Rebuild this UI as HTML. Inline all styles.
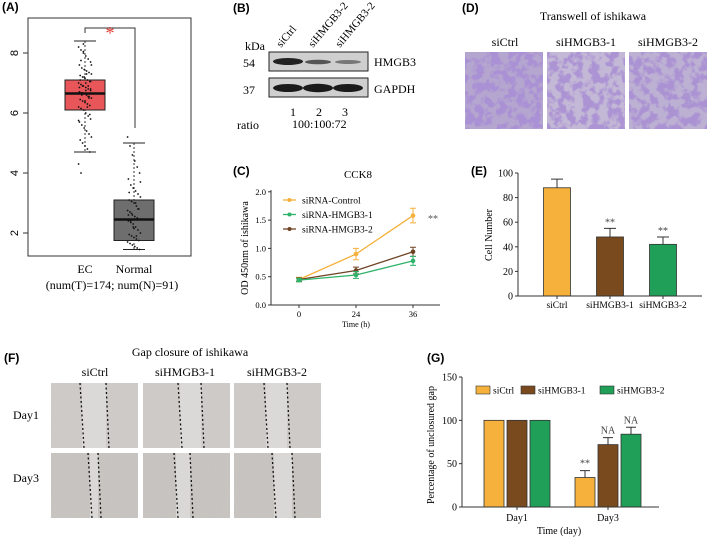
<!DOCTYPE html>
<html><head><meta charset="utf-8"><style>
html,body{margin:0;padding:0;background:#fff;}
svg{display:block;font-family:"Liberation Serif",serif;}
.lbl{font-family:"Liberation Sans",sans-serif;font-weight:bold;font-size:12px;}
</style></head><body>
<svg id="fig" width="709" height="539" viewBox="0 0 709 539" xmlns="http://www.w3.org/2000/svg">
<defs>
<filter id="purple" x="0" y="0" width="100%" height="100%">
 <feTurbulence type="fractalNoise" baseFrequency="0.12" numOctaves="3" seed="4"/>
 <feColorMatrix type="matrix" values="0 0 0 0 0.40  0 0 0 0 0.28  0 0 0 0 0.66  0 0 0 -6 3.4"/>
</filter>
<filter id="gray" x="0" y="0" width="100%" height="100%">
 <feTurbulence type="fractalNoise" baseFrequency="0.6" numOctaves="2" seed="2"/>
 <feColorMatrix type="matrix" values="0 0 0 0 0.55  0 0 0 0 0.53  0 0 0 0 0.52  0 0 0 -1.2 0.8"/>
</filter>
</defs>

<!-- Panel A -->
<g>
<text class="lbl" x="2" y="11">(A)</text>
<rect x="28" y="18" width="163" height="238" fill="none" stroke="#333" stroke-width="1"/>
<g id="aTicks"></g>
<g id="aPlot"></g>
<polyline points="85,33 85,28 135,28 135,128" fill="none" stroke="#333" stroke-width="1"/>
<text x="110" y="39" font-size="18" fill="#e03a30" text-anchor="middle">*</text>
<text x="85" y="273" font-size="12" text-anchor="middle">EC</text>
<text x="134" y="273" font-size="12" text-anchor="middle">Normal</text>
<text x="112" y="289" font-size="12" text-anchor="middle">(num(T)=174; num(N)=91)</text>
</g>

<!-- Panel B -->
<g>
<text class="lbl" x="233" y="12">(B)</text>
<text x="281" y="48" font-size="11" transform="rotate(-50 281 48)">siCtrl</text>
<text x="313" y="48" font-size="11" transform="rotate(-50 313 48)">siHMGB3-2</text>
<text x="340" y="48" font-size="11" transform="rotate(-50 340 48)">siHMGB3-2</text>
<text x="245" y="50" font-size="12">kDa</text>
<text x="243" y="67" font-size="12">54</text>
<text x="243" y="94" font-size="12">37</text>
<rect x="269" y="52" width="99" height="19" fill="#cfcfcf" stroke="#222"/>
<ellipse cx="288" cy="61.5" rx="15" ry="3.5" fill="#222"/>
<ellipse cx="318" cy="62" rx="13" ry="2.3" fill="#555"/>
<ellipse cx="348" cy="62" rx="13" ry="2" fill="#777"/>
<rect x="269" y="78" width="99" height="19" fill="#cfcfcf" stroke="#222"/>
<ellipse cx="288" cy="88" rx="15" ry="4" fill="#1a1a1a"/>
<ellipse cx="318" cy="88" rx="15" ry="4.2" fill="#1a1a1a"/>
<ellipse cx="348" cy="88" rx="15" ry="4" fill="#1a1a1a"/>
<text x="374" y="66" font-size="12">HMGB3</text>
<text x="374" y="93" font-size="12">GAPDH</text>
<text x="293" y="116" font-size="12" text-anchor="middle">1</text>
<text x="319" y="116" font-size="12" text-anchor="middle">2</text>
<text x="345" y="116" font-size="12" text-anchor="middle">3</text>
<text x="237" y="129" font-size="12">ratio</text>
<text x="292" y="128" font-size="12">100:100:72</text>
</g>

<!-- Panel D -->
<g>
<text class="lbl" x="462" y="12">(D)</text>
<text x="593" y="20" font-size="12" text-anchor="middle">Transwell of ishikawa</text>
<text x="505" y="46" font-size="12" text-anchor="middle">siCtrl</text>
<text x="586" y="46" font-size="12" text-anchor="middle">siHMGB3-1</text>
<text x="668" y="46" font-size="12" text-anchor="middle">siHMGB3-2</text>
<g><rect x="465" y="52" width="78" height="77" fill="#b5a6cf"/><rect x="465" y="52" width="78" height="77" filter="url(#purple)"/></g>
<g><rect x="547" y="52" width="78" height="77" fill="#c3b8d6"/><rect x="547" y="52" width="78" height="77" filter="url(#purple)" opacity="0.9"/></g>
<g><rect x="629" y="52" width="78" height="77" fill="#bdb1d3"/><rect x="629" y="52" width="78" height="77" filter="url(#purple)" opacity="0.9"/></g>
</g>

<!-- Panel C -->
<g>
<text class="lbl" x="233" y="175">(C)</text>
<text x="358" y="178" font-size="11" text-anchor="middle">CCK8</text>
<text x="248" y="248" font-size="10" text-anchor="middle" transform="rotate(-90 248 248)">OD 450nm of ishikawa</text>
<text x="356" y="327" font-size="8" text-anchor="middle">Time (h)</text>
<g id="cPlot"></g>
<text x="428" y="222" font-size="10" fill="#555">**</text>
</g>

<!-- Panel E -->
<g>
<text class="lbl" x="471" y="175">(E)</text>
<text x="492" y="235" font-size="10" text-anchor="middle" transform="rotate(-90 492 235)">Cell Number</text>
<g id="ePlot"></g>
</g>

<!-- Panel F -->
<g>
<text class="lbl" x="4" y="362">(F)</text>
<text x="190" y="356" font-size="12" text-anchor="middle">Gap closure of ishikawa</text>
<text x="95" y="376" font-size="12" text-anchor="middle">siCtrl</text>
<text x="185" y="376" font-size="12" text-anchor="middle">siHMGB3-1</text>
<text x="277" y="376" font-size="12" text-anchor="middle">siHMGB3-2</text>
<text x="13" y="419" font-size="12">Day1</text>
<text x="13" y="482" font-size="12">Day3</text>
<g id="fImgs"></g>
</g>

<!-- Panel G -->
<g>
<text class="lbl" x="427" y="362">(G)</text>
<text x="434" y="445" font-size="10" text-anchor="middle" transform="rotate(-90 434 445)">Percentage of unclosured gap</text>
<text x="559" y="534" font-size="10" text-anchor="middle">Time (day)</text>
<g id="gPlot"></g>
</g>
</svg>
<script>
// ---------- Data ----------
// Panel A
const aTickValues = [2, 4, 6, 8];
const ecStats = [4.7, 6.1, 6.65, 7.1, 8.4];      // lowWhisker, q1, median, q3, highWhisker
const normalStats = [1.45, 1.75, 2.45, 3.1, 5.0];
const ecPoints = [8.2,8.1,8.0,7.9,7.8,7.7,7.6,7.5,7.45,7.4,7.35,7.3,7.25,7.2,7.15,7.1,7.05,7.0,6.95,6.9,6.85,6.8,6.75,6.7,6.68,6.65,6.6,6.55,6.5,6.45,6.4,6.35,6.3,6.25,6.2,6.15,6.1,6.0,5.9,5.8,5.7,5.6,5.5,5.4,5.3,5.2,5.1,5.0,4.9,4.8,4.7,4.3,4.0,8.3,7.0,6.9,6.8,6.7,6.6,7.2,7.3,6.5,7.6,7.1,6.9,6.4,6.2,5.95,5.75,7.75,8.05,6.75,6.55,7.05,6.85];
const normalPoints = [5.2,4.9,4.6,4.4,4.2,4.0,3.8,3.6,3.5,3.4,3.3,3.2,3.1,3.05,3.0,2.9,2.8,2.75,2.7,2.6,2.55,2.5,2.45,2.4,2.35,2.3,2.2,2.1,2.0,1.95,1.9,1.85,1.8,1.75,1.7,1.65,1.6,1.55,1.5,1.45,2.6,2.4,2.2,3.0,2.8,3.7,3.35,2.65,2.15,1.9];
// Panel C
const cTimes = ["0", "24", "36"];
const cTicks = [0.0, 0.5, 1.0, 1.5, 2.0];
const cSeriesNames = ["siRNA-Control", "siRNA-HMGB3-1", "siRNA-HMGB3-2"];
const cControl = [0.45, 0.90, 1.58];
const cControlErr = [0.04, 0.10, 0.13];
const cH1 = [0.44, 0.53, 0.78];
const cH1Err = [0.03, 0.06, 0.08];
const cH2 = [0.45, 0.61, 0.94];
const cH2Err = [0.03, 0.06, 0.08];
// Panel E
const eCategories = ["siCtrl", "siHMGB3-1", "siHMGB3-2"];
const eTicks = [0, 20, 40, 60, 80, 100];
const eValues = [88, 48, 42];
const eErr = [7, 7, 6];
const eSig = ["", "**", "**"];
// Panel G
const gDays = ["Day1", "Day3"];
const gTicks = [0, 50, 100, 150];
const gSeriesNames = ["siCtrl", "siHMGB3-1", "siHMGB3-2"];
const gCtrl = [100, 34];
const gH1 = [100, 72];
const gH2 = [100, 84];
const gErr = [[0, 8], [0, 8], [0, 8]];
const gSig = [["", "**"], ["", "NA"], ["", "NA"]];

// ---------- Helpers ----------
const NS = "http://www.w3.org/2000/svg";
function mk(tag, attrs, parent, text) {
  const e = document.createElementNS(NS, tag);
  for (const k in attrs) e.setAttribute(k, attrs[k]);
  if (text !== undefined) e.textContent = text;
  parent.appendChild(e);
  return e;
}
const ORANGE = "#f5b13c", GREEN = "#2fb36a", BROWN = "#6f4425";
const BAR_BROWN = "#7a4a1f", BAR_GREEN = "#1f9f57";

// ---------- Panel A ----------
(function () {
  const yA = v => 293 - 30 * v;
  const tg = document.getElementById("aTicks");
  aTickValues.forEach(v => {
    const l = mk("line", {x1: 23, x2: 28, y1: yA(v), y2: yA(v), stroke: "#333"}, tg);
    
    
    const t = mk("text", {x: 14, y: yA(v), "font-size": 11, "text-anchor": "middle", "font-family": "Liberation Sans, sans-serif", transform: `rotate(-90 14 ${yA(v)})`, dy: 4}, tg, String(v));
    
    
  });
  const g = document.getElementById("aPlot");
  function box(stats, cx, fill, name) {
    const grp = mk("g", {}, g);
    
    
    mk("line", {x1: cx, x2: cx, y1: yA(stats[4]), y2: yA(stats[0]), stroke: "#333", "stroke-dasharray": "2,2"}, grp);
    mk("line", {x1: cx - 11, x2: cx + 11, y1: yA(stats[4]), y2: yA(stats[4]), stroke: "#222"}, grp);
    mk("line", {x1: cx - 11, x2: cx + 11, y1: yA(stats[0]), y2: yA(stats[0]), stroke: "#222"}, grp);
    mk("rect", {x: cx - 20, y: yA(stats[3]), width: 40, height: yA(stats[1]) - yA(stats[3]), fill: fill, stroke: "#222"}, grp);
    mk("line", {x1: cx - 20, x2: cx + 20, y1: yA(stats[2]), y2: yA(stats[2]), stroke: "#111", "stroke-width": 2.5}, grp);
  }
  box(ecStats, 85, "#e8565a", "box-ec");
  box(normalStats, 134, "#6e6e6e", "box-normal");
  function dots(arr, cx, name) {
    arr.forEach((v, i) => {
      const j = ((i * 37) % 17 - 8) * 0.8;
      const c = mk("circle", {cx: cx + j, cy: yA(v), r: 0.9, fill: "#111"}, g);
      
      
    });
  }
  dots(ecPoints, 85, "ec-point");
  dots(normalPoints, 134, "normal-point");
})();

// ---------- Panel C ----------
(function () {
  const g = document.getElementById("cPlot");
  const yC = v => 305 - 56.6 * v;
  const xC = i => 299 + 57 * i;
  const ax = mk("path", {d: "M271,190 V305 H440", fill: "none", stroke: "#333", "stroke-width": 1}, g);
  
  
  cTicks.forEach(v => {
    mk("line", {x1: 268, x2: 271, y1: yC(v), y2: yC(v), stroke: "#333"}, g);
    const t = mk("text", {x: 266, y: yC(v) + 3, "font-size": 8.5, "text-anchor": "end"}, g, v.toFixed(1));
    
    
  });
  cTimes.forEach((s, i) => {
    mk("line", {x1: xC(i), x2: xC(i), y1: 305, y2: 308, stroke: "#333"}, g);
    const t = mk("text", {x: xC(i), y: 317, "font-size": 8.5, "text-anchor": "middle"}, g, s);
    
    
  });
  function series(vals, errs, col, name) {
    const pts = vals.map((v, i) => xC(i) + "," + yC(v)).join(" ");
    const p = mk("polyline", {points: pts, fill: "none", stroke: col, "stroke-width": 1.3}, g);
    
    
    vals.forEach((v, i) => {
      const x = xC(i);
      mk("path", {d: `M${x},${yC(v - errs[i])} V${yC(v + errs[i])} M${x - 3},${yC(v - errs[i])} h6 M${x - 3},${yC(v + errs[i])} h6`, stroke: col, fill: "none"}, g);
      const c = mk("circle", {cx: x, cy: yC(v), r: 2.3, fill: col}, g);
      
      
    });
  }
  series(cControl, cControlErr, ORANGE, "control");
  series(cH2, cH2Err, BROWN, "hmgb3-2");
  series(cH1, cH1Err, GREEN, "hmgb3-1");
  const cols = [ORANGE, GREEN, BROWN];
  cSeriesNames.forEach((n, i) => {
    const y = 200 + 14.5 * i;
    const lg = mk("g", {}, g);
    
    
    mk("line", {x1: 283, x2: 296, y1: y, y2: y, stroke: cols[i], "stroke-width": 1.3}, lg);
    mk("circle", {cx: 289.5, cy: y, r: 2, fill: cols[i]}, lg);
    mk("text", {x: 302, y: y + 3.5, "font-size": 9.5}, lg, n);
  });
})();

// ---------- Panel E ----------
(function () {
  const g = document.getElementById("ePlot");
  const yE = v => 296 - 1.23 * v;
  const xE = i => 557 + 53 * i;
  const cols = [ORANGE, BAR_BROWN, BAR_GREEN];
  eCategories.forEach((c, i) => {
    const b = mk("rect", {x: xE(i) - 13.5, y: yE(eValues[i]), width: 27, height: yE(0) - yE(eValues[i]), fill: cols[i], stroke: "#333", "stroke-width": 0.8}, g);
    
    
    const x = xE(i), top = yE(eValues[i] + eErr[i]);
    mk("path", {d: `M${x},${yE(eValues[i])} V${top} M${x - 6},${top} h12`, stroke: "#333", fill: "none"}, g);
    if (eSig[i]) mk("text", {x: x, y: top - 3, "font-size": 10, "text-anchor": "middle", fill: "#444"}, g, eSig[i]);
    mk("line", {x1: x, x2: x, y1: 296, y2: 299, stroke: "#333"}, g);
    const t = mk("text", {x: x, y: 308, "font-size": 9.5, "text-anchor": "middle"}, g, c);
    
    
  });
  const ax = mk("path", {d: "M518,173 V296 H702", fill: "none", stroke: "#333"}, g);
  
  
  eTicks.forEach(v => {
    mk("line", {x1: 515, x2: 518, y1: yE(v), y2: yE(v), stroke: "#333"}, g);
    const t = mk("text", {x: 513, y: yE(v) + 3.5, "font-size": 10, "text-anchor": "end"}, g, String(v));
    
    
  });
})();

// ---------- Panel F images ----------
(function () {
  const g = document.getElementById("fImgs");
  const xs = [51, 143, 234], ys = [383, 453];
  const day1 = [[80, 106], [178, 201], [264, 287]];
  const day3 = [[88, 98], [174, 190], [272, 292]];
  ys.forEach((y, r) => {
    xs.forEach((x, c) => {
      const grp = mk("g", {}, g);
      
      
      mk("rect", {x: x, y: y, width: 87, height: 65, fill: r === 0 ? "#cfcbc8" : "#c8c4c0"}, grp);
      mk("rect", {x: x, y: y, width: 87, height: 65, filter: "url(#gray)", opacity: r === 0 ? 0.35 : 0.9}, grp);
      const d = r === 0 ? day1[c] : day3[c];
      mk("rect", {x: d[0] + 2, y: y, width: d[1] - d[0] - 2, height: 65, fill: "#dcdad8", opacity: 0.9}, grp);
      mk("line", {x1: d[0], y1: y, x2: d[0] + 4, y2: y + 65, stroke: "#111", "stroke-width": 1.3, "stroke-dasharray": "2,2.5"}, grp);
      mk("line", {x1: d[1], y1: y, x2: d[1] + 3, y2: y + 65, stroke: "#111", "stroke-width": 1.3, "stroke-dasharray": "2,2.5"}, grp);
    });
  });
})();

// ---------- Panel G ----------
(function () {
  const g = document.getElementById("gPlot");
  const yG = v => 507 - (130 / 150) * v;
  const groupCenter = [517, 608];
  const offs = [-23, 0, 23];
  const vals = [gCtrl, gH1, gH2];
  const cols = [ORANGE, BAR_BROWN, BAR_GREEN];
  gDays.forEach((d, di) => {
    vals.forEach((arr, si) => {
      const x = groupCenter[di] + offs[si];
      const b = mk("rect", {x: x - 10, y: yG(arr[di]), width: 20, height: yG(0) - yG(arr[di]), fill: cols[si], stroke: "#333", "stroke-width": 0.8}, g);
      
      
      const e = gErr[si][di];
      if (e > 0) {
        const top = yG(arr[di] + e);
        mk("path", {d: `M${x},${yG(arr[di])} V${top} M${x - 5},${top} h10`, stroke: "#333", fill: "none"}, g);
      }
      if (gSig[si][di]) {
        mk("text", {x: x, y: yG(arr[di] + e) - 4, "font-size": 10, "text-anchor": "middle", fill: "#444"}, g, gSig[si][di]);
      }
    });
    mk("line", {x1: groupCenter[di], x2: groupCenter[di], y1: 507, y2: 510, stroke: "#333"}, g);
    const t = mk("text", {x: groupCenter[di], y: 521, "font-size": 10, "text-anchor": "middle"}, g, d);
    
    
  });
  const ax = mk("path", {d: "M462,377 V507 H659", fill: "none", stroke: "#333"}, g);
  
  
  gTicks.forEach(v => {
    mk("line", {x1: 459, x2: 462, y1: yG(v), y2: yG(v), stroke: "#333"}, g);
    const t = mk("text", {x: 457, y: yG(v) + 3.5, "font-size": 10, "text-anchor": "end"}, g, String(v));
    
    
  });
  const lx = [476, 521, 600];
  gSeriesNames.forEach((n, i) => {
    const lg = mk("g", {}, g);
    
    
    mk("rect", {x: lx[i], y: 386, width: 14, height: 8, fill: cols[i], stroke: "#333", "stroke-width": 0.6}, lg);
    mk("text", {x: lx[i] + 17, y: 393.5, "font-size": 9.5}, lg, n);
  });
})();
</script>
</body></html>
